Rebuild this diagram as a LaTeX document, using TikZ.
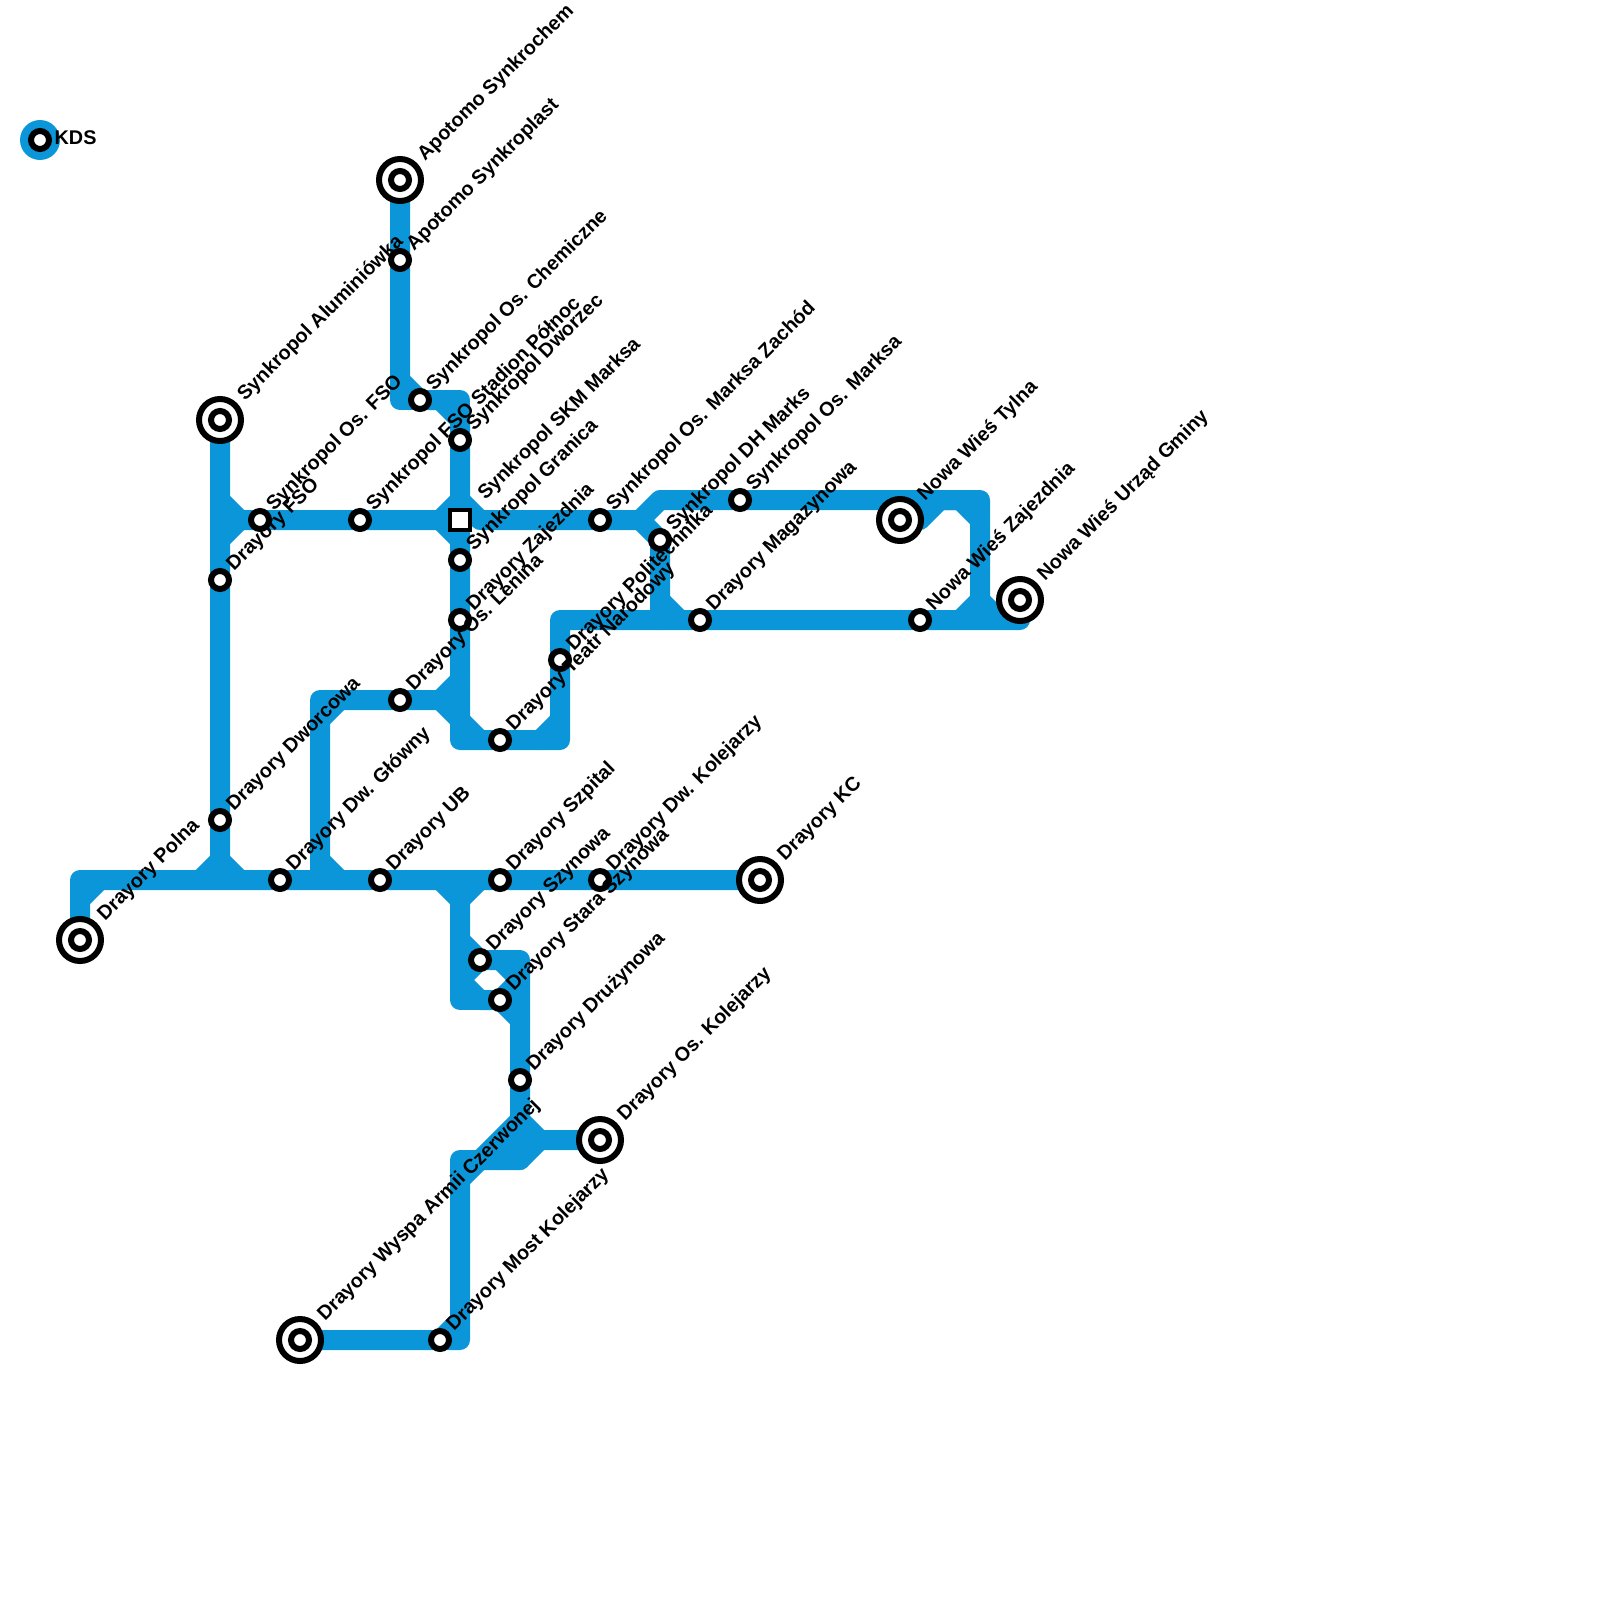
\documentclass[tikz,border=0pt]{standalone}
\usepackage{fontspec}
\setmainfont{Liberation Sans}
\usetikzlibrary{backgrounds,calc}
\definecolor{metro}{HTML}{0A96D8}
\tikzset{
  x=1pt,y=-1pt,
  tline/.style={draw=metro,line width=20pt,line join=round,line cap=round},
  ring/.style={circle,draw=black,fill=white,line width=6pt,minimum size=18pt,inner sep=0pt},
  outerring/.style={circle,draw=black,fill=white,line width=6pt,minimum size=42pt,inner sep=0pt},
  squarestn/.style={rectangle,draw=black,fill=white,line width=4pt,minimum size=19.5pt,inner sep=0pt},
  lab/.style={rotate=45,anchor=base west,inner sep=0pt,text=black,font=\fontsize{19.8}{20}\selectfont\bfseries},
  legdisc/.style={circle,fill=metro,minimum size=40pt,inner sep=0pt}
}
\newcommand\stn[4]{%
  \node[ring] (#1) at (#2,#3) {};
  \node[lab] (#1-l) at ($(#2,#3)+(14,-8.5)$) {#4};}
\newcommand\term[4]{%
  \node[outerring] (#1) at (#2,#3) {};
  \node[ring] (#1-i) at (#2,#3) {};
  \node[lab] (#1-l) at ($(#2,#3)+(25,-18.5)$) {#4};}
\begin{document}
\begin{tikzpicture}
\useasboundingbox (0,0) rectangle (1600,1600);
\foreach \x/\y in {400/380,420/400,440/400,460/420,400/400,460/400,460/500,220/500,240/520,440/520,480/520,640/520,660/500,980/500,980/600,1000/620,1020/620,220/540,220/860,240/880,200/880,460/540,460/680,440/700,340/700,320/720,320/860,340/880,320/880,320/700,460/720,480/740,460/740,560/740,560/720,540/740,560/620,680/620,660/600,660/620,660/540,960/620,80/900,80/880,100/880,440/880,460/900,480/880,460/940,480/960,500/960,520/960,520/980,460/980,480/1000,500/1000,460/1000,520/1020,520/1120,520/1140,500/1160,520/1160,540/1140,460/1160,460/1180,480/1160,460/1340,460/1320,440/1340,920/520,940/500,960/500,980/520}
  \coordinate (p\x-\y) at (\x,\y);

% legend
\node[legdisc] (legd) at (40,140) {};
\node[ring] (legs) at (40,140) {};
\node[lab,rotate=-45] (legt) at (54.5,144) {KDS};

% stations
\term{asc}{400}{180}{Apotomo Synkrochem}
\stn{asp}{400}{260}{Apotomo Synkroplast}
\stn{soc}{420}{400}{Synkropol Os. Chemiczne}
\stn{sdw}{460}{440}{Synkropol Dworzec}
\node[squarestn] (skm) at (460,520) {};
\node[lab] (skm-l) at ($(460,520)+(25.5,-19)$) {Synkropol SKM Marksa};
\stn{sgr}{460}{560}{Synkropol Granica}
\stn{dza}{460}{620}{Drayory Zajezdnia}
\term{sal}{220}{420}{Synkropol Aluminiówka}
\stn{sof}{260}{520}{Synkropol Os. FSO}
\stn{dfs}{220}{580}{Drayory FSO}
\stn{sfs}{360}{520}{Synkropol FSO Stadion Północ}
\stn{som}{600}{520}{Synkropol Os. Marksa Zachód}
\stn{sdh}{660}{540}{Synkropol DH Marks}
\stn{sma}{740}{500}{Synkropol Os. Marksa}
\stn{dma}{700}{620}{Drayory Magazynowa}
\stn{dpo}{560}{660}{Drayory Politechnika}
\stn{dte}{500}{740}{Drayory Teatr Narodowy}
\stn{dle}{400}{700}{Drayory Os. Lenina}
\term{nwt}{900}{520}{Nowa Wieś Tylna}
\stn{nwz}{920}{620}{Nowa Wieś Zajezdnia}
\term{nwu}{1020}{600}{Nowa Wieś Urząd Gminy}
\stn{ddw}{220}{820}{Drayory Dworcowa}
\term{dpl}{80}{940}{Drayory Polna}
\stn{dgl}{280}{880}{Drayory Dw. Główny}
\stn{dub}{380}{880}{Drayory UB}
\stn{dsz}{500}{880}{Drayory Szpital}
\stn{dko}{600}{880}{Drayory Dw. Kolejarzy}
\term{dkc}{760}{880}{Drayory KC}
\stn{dsy}{480}{960}{Drayory Szynowa}
\stn{dst}{500}{1000}{Drayory Stara Szynowa}
\stn{ddr}{520}{1080}{Drayory Drużynowa}
\term{dok}{600}{1140}{Drayory Os. Kolejarzy}
\term{dwa}{300}{1340}{Drayory Wyspa Armii Czerwonej}
\stn{dmk}{440}{1340}{Drayory Most Kolejarzy}

\begin{pgfonlayer}{background}
\draw[tline] (asc.center) -- (asp.center) -- (p400-380) -- (soc.center) -- (p440-400) -- (p460-420) -- (sdw.center) -- (p460-500) -- (skm.center) -- (p460-540) -- (sgr.center) -- (dza.center) -- (p460-680) -- (p460-720) -- (p460-740) -- (dte.center) -- (p560-740) -- (dpo.center) -- (p560-620) -- (p680-620) -- (dma.center) -- (nwz.center) -- (p960-620) -- (p1000-620) -- (p1020-620) -- (nwu.center);
\draw[tline] (p400-380) -- (p400-400) -- (soc.center);
\draw[tline] (p440-400) -- (p460-400) -- (p460-420);
\draw[tline] (sal.center) -- (p220-500) -- (p240-520) -- (sof.center) -- (sfs.center) -- (p440-520) -- (p460-500) -- (p480-520) -- (som.center) -- (p640-520) -- (p660-500) -- (sma.center) -- (p980-500) -- (p980-520) -- (p980-600) -- (p1000-620);
\draw[tline] (p220-500) -- (p220-540) -- (p240-520);
\draw[tline] (p220-540) -- (dfs.center) -- (ddw.center) -- (p220-860) -- (p240-880);
\draw[tline] (p220-860) -- (p200-880);
\draw[tline] (p440-520) -- (p460-540);
\draw[tline] (p460-680) -- (p440-700) -- (dle.center) -- (p340-700) -- (p320-720) -- (p320-860) -- (p340-880);
\draw[tline] (p340-700) -- (p320-700) -- (p320-720);
\draw[tline] (p320-860) -- (p320-880);
\draw[tline] (p440-700) -- (p460-720) -- (p480-740);
\draw[tline] (p560-720) -- (p540-740);
\draw[tline] (p640-520) -- (sdh.center) -- (p660-600) -- (p680-620);
\draw[tline] (p660-600) -- (p660-620);
\draw[tline] (p980-600) -- (p960-620);
\draw[tline] (dpl.center) -- (p80-900) -- (p100-880) -- (dgl.center) -- (dub.center) -- (p440-880) -- (p480-880) -- (dsz.center) -- (dko.center) -- (dkc.center);
\draw[tline] (p80-900) -- (p80-880) -- (p100-880);
\draw[tline] (p440-880) -- (p460-900) -- (p480-880);
\draw[tline] (p460-900) -- (p460-940) -- (p480-960) -- (dsy.center) -- (p520-960) -- (p520-980) -- (p520-1020);
\draw[tline] (p460-940) -- (p460-980) -- (p460-1000) -- (dst.center);
\draw[tline] (p520-980) -- (p500-960);
\draw[tline] (dsy.center) -- (p460-980) -- (p480-1000) -- (dst.center) -- (p520-980);
\draw[tline] (dst.center) -- (p520-1020) -- (ddr.center) -- (p520-1120) -- (p540-1140) -- (dok.center);
\draw[tline] (p540-1140) -- (p520-1160) -- (p460-1160) -- (p460-1180);
\draw[tline] (p520-1120) -- (p520-1160);
\draw[tline] (p520-1140) -- (p500-1160);
\draw[tline] (p520-1120) -- (p480-1160) -- (p460-1180) -- (p460-1320) -- (p460-1340) -- (dmk.center) -- (dwa.center);
\draw[tline] (p460-1320) -- (p440-1340);
\draw[tline] (nwt.center) -- (p920-520) -- (p940-500) -- (p960-500) -- (p980-520);
\end{pgfonlayer}
\end{tikzpicture}
\end{document}
